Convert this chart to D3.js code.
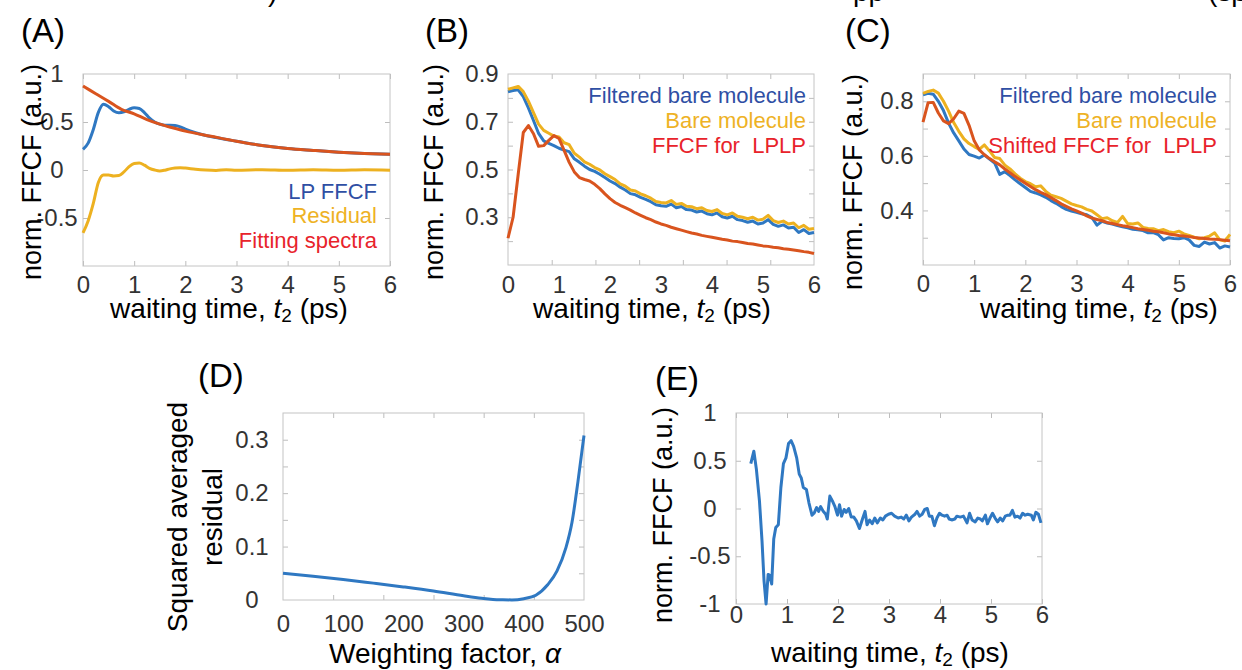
<!DOCTYPE html>
<html>
<head>
<meta charset="utf-8">
<script src="https://d3js.org/d3.v7.min.js"></script>
<style>
  body { margin: 0; background: #fff; }
  svg { display: block; font-family: "Liberation Sans", Arial, Helvetica, sans-serif; }
  .tick text { fill: #333; font-size: 24px; }
  .marks line { stroke: #bdbdbd; }
</style>
</head>
<body>
<script>
// ---------- data ----------
// (A) LP FFCF, residual and fit
const tA = [0,0.1,0.2,0.3,0.4,0.5,0.6,0.7,0.8,0.9,1.0,1.1,1.2,1.3,1.4,1.5,1.6,1.7,1.8,1.9,2.0,2.2,2.4,2.6,2.8,3.0,3.5,4.0,4.5,5.0,5.5,6.0];
const lpFFCF = [0.215,0.28,0.42,0.60,0.685,0.66,0.615,0.596,0.605,0.632,0.648,0.640,0.598,0.540,0.500,0.478,0.466,0.466,0.464,0.450,0.426,0.388,0.360,0.338,0.318,0.300,0.255,0.224,0.204,0.186,0.173,0.164];
const residualA = [-0.655,-0.53,-0.35,-0.13,-0.052,-0.052,-0.062,-0.058,-0.02,0.035,0.068,0.072,0.05,0.018,0.0,-0.01,-0.002,0.012,0.02,0.024,0.02,0.008,0.0,-0.004,0.002,-0.002,0.003,-0.003,0.002,-0.003,0.002,-0.002];
const tFit = [0,0.25,0.5,0.75,1,1.25,1.5,1.75,2,2.5,3,3.5,4,4.5,5,5.5,6];
const fitA = [0.875,0.795,0.715,0.632,0.585,0.525,0.478,0.440,0.405,0.352,0.300,0.255,0.224,0.204,0.186,0.173,0.164];

// (B) and (C) sampled every 0.1 ps
const tGrid = d3.range(61).map(i => i / 10);
const filteredB = [0.826,0.831,0.834,0.805,0.758,0.705,0.651,0.620,0.609,0.600,0.589,0.581,0.575,0.545,0.530,0.514,0.500,0.492,0.480,0.466,0.452,0.441,0.426,0.414,0.399,0.394,0.383,0.375,0.365,0.352,0.348,0.346,0.355,0.340,0.345,0.332,0.330,0.322,0.326,0.315,0.310,0.318,0.302,0.297,0.304,0.290,0.286,0.279,0.284,0.272,0.276,0.290,0.270,0.262,0.268,0.255,0.258,0.236,0.248,0.232,0.236];
const bareB = [0.836,0.842,0.848,0.826,0.786,0.738,0.690,0.664,0.652,0.640,0.636,0.612,0.604,0.568,0.552,0.532,0.522,0.508,0.498,0.482,0.470,0.458,0.440,0.430,0.414,0.410,0.398,0.390,0.380,0.366,0.362,0.360,0.370,0.354,0.358,0.346,0.344,0.336,0.340,0.328,0.324,0.332,0.316,0.310,0.318,0.304,0.300,0.294,0.300,0.288,0.292,0.308,0.286,0.278,0.284,0.272,0.276,0.256,0.266,0.250,0.253];
const lplpB = [0.212,0.30,0.48,0.655,0.684,0.650,0.597,0.600,0.622,0.642,0.630,0.580,0.530,0.490,0.466,0.458,0.452,0.438,0.420,0.398,0.378,0.362,0.350,0.340,0.330,0.318,0.308,0.298,0.290,0.280,0.272,0.266,0.258,0.252,0.246,0.240,0.234,0.230,0.224,0.220,0.216,0.212,0.208,0.205,0.200,0.198,0.194,0.190,0.188,0.184,0.180,0.178,0.174,0.172,0.168,0.166,0.163,0.160,0.156,0.153,0.148];

const filteredC = [0.824,0.829,0.826,0.800,0.766,0.720,0.684,0.655,0.625,0.605,0.599,0.592,0.603,0.588,0.574,0.532,0.542,0.528,0.512,0.498,0.484,0.470,0.464,0.457,0.448,0.436,0.426,0.414,0.404,0.398,0.393,0.388,0.384,0.374,0.346,0.360,0.354,0.350,0.345,0.340,0.336,0.331,0.329,0.326,0.318,0.319,0.311,0.292,0.300,0.297,0.296,0.300,0.292,0.272,0.268,0.284,0.277,0.282,0.262,0.270,0.266];
const bareC = [0.829,0.836,0.841,0.830,0.800,0.764,0.722,0.690,0.662,0.645,0.634,0.624,0.640,0.618,0.594,0.590,0.566,0.552,0.534,0.518,0.506,0.498,0.487,0.490,0.470,0.456,0.450,0.444,0.434,0.424,0.418,0.413,0.404,0.398,0.384,0.370,0.373,0.362,0.356,0.378,0.352,0.350,0.354,0.338,0.334,0.333,0.326,0.330,0.322,0.318,0.324,0.314,0.308,0.302,0.296,0.300,0.306,0.318,0.292,0.288,0.312];
const shiftedC = [0.724,0.795,0.796,0.757,0.728,0.718,0.736,0.764,0.756,0.712,0.655,0.622,0.604,0.590,0.578,0.567,0.552,0.538,0.524,0.512,0.500,0.488,0.476,0.466,0.458,0.447,0.436,0.424,0.415,0.406,0.398,0.390,0.380,0.372,0.367,0.362,0.356,0.352,0.348,0.344,0.341,0.337,0.333,0.330,0.327,0.324,0.322,0.318,0.314,0.311,0.308,0.306,0.304,0.301,0.299,0.297,0.295,0.294,0.293,0.291,0.289];

// (D) squared averaged residual vs weighting factor
const alphaD = [0,50,100,150,200,250,300,330,360,380,400,420,440,455,470,480,490,500];
const residD = [0.050,0.0445,0.0385,0.0316,0.0245,0.0168,0.0078,0.0032,0.0004,0.0002,0.0025,0.009,0.029,0.054,0.098,0.145,0.222,0.308];

// (E) difference FFCF
const tE = [0.29,0.35,0.40,0.46,0.51,0.55,0.59,0.63,0.66,0.70,0.74,0.78,0.83,0.88,0.93,0.98,1.03,1.08,1.13,1.19,1.24,1.28,1.32,1.38,1.43,1.49,1.53,1.58,1.62,1.66,1.71,1.76,1.79,1.84,1.89,1.94,1.99,2.03,2.07,2.12,2.16,2.21,2.26,2.31,2.36,2.42,2.48,2.53,2.57,2.62,2.67,2.72,2.77,2.83,2.88,2.93,2.99,3.05,3.11,3.18,3.24,3.29,3.34,3.39,3.44,3.51,3.55,3.60,3.65,3.70,3.75,3.79,3.84,3.89,3.94,3.99,4.04,4.09,4.14,4.18,4.23,4.29,4.33,4.40,4.46,4.53,4.58,4.63,4.69,4.74,4.79,4.83,4.89,4.93,4.98,5.03,5.08,5.13,5.18,5.23,5.28,5.33,5.37,5.42,5.47,5.52,5.57,5.62,5.67,5.72,5.79,5.83,5.88,5.93,5.98];
const ffcfE = [0.47,0.60,0.41,0.08,-0.34,-0.76,-1.0,-0.69,-0.70,-0.79,-0.32,-0.20,-0.17,0.22,0.47,0.53,0.68,0.71,0.65,0.53,0.36,0.32,0.22,0.20,0.06,-0.07,-0.05,0.01,-0.03,0.02,-0.03,-0.06,-0.11,0.13,0.08,0.02,-0.07,0.04,-0.08,-0.01,-0.04,0.00,-0.09,-0.09,-0.13,-0.21,-0.11,-0.03,-0.17,-0.12,-0.16,-0.10,-0.15,-0.10,-0.12,-0.08,-0.06,-0.05,-0.08,-0.10,-0.09,-0.11,-0.07,-0.13,-0.09,-0.06,-0.03,-0.08,-0.06,-0.01,0.00,-0.08,-0.08,-0.18,-0.10,-0.05,-0.07,-0.08,-0.07,-0.11,-0.12,-0.11,-0.08,-0.09,-0.08,-0.15,-0.05,-0.12,-0.14,-0.10,-0.11,-0.13,-0.07,-0.16,-0.10,-0.05,-0.10,-0.14,-0.10,-0.13,-0.08,-0.07,-0.07,-0.02,-0.09,-0.08,-0.10,-0.05,-0.07,-0.06,-0.07,-0.12,-0.04,-0.06,-0.15];

// tick labels
const timeTicks = [0,1,2,3,4,5,6];
const yTicksA = [-0.5,0,0.5,1];
const yTicksB = [0.3,0.5,0.7,0.9];
const yTicksC = [0.4,0.6,0.8];
const yTicksD = [0,0.1,0.2,0.3];
const xTicksD = [0,100,200,300,400,500];
const yTicksE = [-1,-0.5,0,0.5,1];

// ---------- drawing ----------
const blue = "#2f78c2", orange = "#d9541e", yellow = "#edb120";
const txtBlue = "#2f4fa4", txtYellow = "#eeb225", txtRed = "#e8232b";

const svg = d3.select("body").append("svg").attr("width", 1242).attr("height", 670);

function panel(o) {
  const x = d3.scaleLinear().domain(o.xd).range([o.x0, o.x1]);
  const y = d3.scaleLinear().domain(o.yd).range([o.y1, o.y0]);
  const g = svg.append("g");
  const noDomain = s => s.select(".domain").remove();

  // tick marks on all four sides, pointing in
  g.append("g").attr("class", "marks").attr("transform", `translate(0,${o.y1})`)
    .call(d3.axisBottom(x).tickValues(o.xMarks).tickSize(-5).tickFormat("")).call(noDomain);
  g.append("g").attr("class", "marks").attr("transform", `translate(0,${o.y0})`)
    .call(d3.axisTop(x).tickValues(o.xMarks).tickSize(-5).tickFormat("")).call(noDomain);
  g.append("g").attr("class", "marks").attr("transform", `translate(${o.x0},0)`)
    .call(d3.axisLeft(y).tickValues(o.yMarks).tickSize(-5).tickFormat("")).call(noDomain);
  g.append("g").attr("class", "marks").attr("transform", `translate(${o.x1},0)`)
    .call(d3.axisRight(y).tickValues(o.yMarks).tickSize(-5).tickFormat("")).call(noDomain);

  g.append("rect").attr("x", o.x0).attr("y", o.y0)
    .attr("width", o.x1 - o.x0).attr("height", o.y1 - o.y0)
    .attr("fill", "none").attr("stroke", "#c4c4c4").attr("stroke-width", 1);

  // tick labels
  const xl = g.append("g").attr("transform", `translate(0,${o.y1})`)
    .call(d3.axisBottom(x).tickValues(o.xLabels).tickSize(0).tickFormat(d => String(d))).call(noDomain);
  xl.selectAll("text").attr("y", o.xLabOff).attr("dy", null);
  const yl = g.append("g").attr("transform", `translate(${o.x0},0)`)
    .call(d3.axisLeft(y).tickValues(o.yLabels).tickSize(0).tickFormat(d => String(d))).call(noDomain);
  yl.selectAll("text").attr("text-anchor", "middle").attr("x", o.yLabX - o.x0);

  return { g, x, y };
}

function curve(p, xs, ys, color, c) {
  const line = d3.line().x(d => p.x(d[0])).y(d => p.y(d[1])).curve(c || d3.curveLinear);
  p.g.append("path").datum(xs.map((v, i) => [v, ys[i]]))
    .attr("fill", "none").attr("stroke", color).attr("stroke-width", 3)
    .attr("stroke-linejoin", "round").attr("d", line);
}

function text(str, x, y, opt) {
  opt = opt || {};
  return svg.append("text").attr("x", x).attr("y", y)
    .attr("font-size", opt.size || 22).attr("fill", opt.fill || "#000")
    .attr("text-anchor", opt.anchor || "start").text(str);
}

function timeLabel(cx, base) {
  const t = svg.append("text").attr("x", cx).attr("y", base).attr("font-size", 28)
    .attr("text-anchor", "middle").attr("fill", "#000");
  t.append("tspan").text("waiting time, ");
  t.append("tspan").attr("font-style", "italic").text("t");
  t.append("tspan").attr("font-size", 19).attr("dy", 4).text("2");
  t.append("tspan").attr("dy", -4).text(" (ps)");
}

function yLabel(lines, x, cy, size) {
  const t = svg.append("text").attr("transform", `translate(${x},${cy}) rotate(-90)`)
    .attr("font-size", size || 27).attr("text-anchor", "middle").attr("fill", "#000");
  lines.forEach((s, i) => t.append("tspan").attr("x", 0).attr("dy", i ? 35 : 0).text(s));
}

// fragments of the caption line cut off above the figure
text(")", 268, 1, { size: 28 });
text("pp", 853, 1, { size: 28 });
text("(sp", 1208, 1, { size: 28 });

// (A)
const pA = panel({ x0: 83, x1: 390, y0: 74, y1: 266, xd: [0, 6], yd: [-1, 1],
  xMarks: timeTicks, yMarks: [-0.5, 0, 0.5], xLabels: timeTicks, yLabels: yTicksA, xLabOff: 27, yLabX: 57 });
curve(pA, tA, residualA, yellow, d3.curveMonotoneX);
curve(pA, tA, lpFFCF, blue, d3.curveMonotoneX);
curve(pA, tFit, fitA, orange, d3.curveMonotoneX);
text("LP FFCF", 377, 199, { anchor: "end", fill: txtBlue });
text("Residual", 377, 223, { anchor: "end", fill: txtYellow });
text("Fitting spectra", 377, 248, { anchor: "end", fill: txtRed });
text("(A)", 21, 42, { size: 33 });
yLabel(["norm. FFCF (a.u.)"], 41, 172);
timeLabel(229, 318);

// (B)
const pB = panel({ x0: 508, x1: 814, y0: 74, y1: 265, xd: [0, 6], yd: [0.1, 0.9],
  xMarks: d3.range(1, 7).map(i => i * 6 / 7), yMarks: d3.range(2, 9).map(i => i / 10),
  xLabels: timeTicks, yLabels: yTicksB, xLabOff: 28, yLabX: 482 });
curve(pB, tGrid, filteredB, blue);
curve(pB, tGrid, bareB, yellow);
curve(pB, tGrid, lplpB, orange);
text("Filtered bare molecule", 806, 103, { anchor: "end", fill: txtBlue });
text("Bare molecule", 806, 128, { anchor: "end", fill: txtYellow });
text("FFCF for  LPLP", 806, 153, { anchor: "end", fill: txtRed }).attr("xml:space", "preserve");
text("(B)", 425, 42, { size: 33 });
yLabel(["norm. FFCF (a.u.)"], 443, 172);
timeLabel(652, 318);

// (C)
const pC = panel({ x0: 923, x1: 1230, y0: 74, y1: 265, xd: [0, 6], yd: [0.2, 0.9],
  xMarks: timeTicks, yMarks: d3.range(3, 9).map(i => i / 10),
  xLabels: timeTicks, yLabels: yTicksC, xLabOff: 27, yLabX: 897 });
curve(pC, tGrid, filteredC, blue);
curve(pC, tGrid, bareC, yellow);
curve(pC, tGrid, shiftedC, orange);
text("Filtered bare molecule", 1217, 103, { anchor: "end", fill: txtBlue });
text("Bare molecule", 1217, 128, { anchor: "end", fill: txtYellow });
text("Shifted FFCF for  LPLP", 1217, 153, { anchor: "end", fill: txtRed }).attr("xml:space", "preserve");
text("(C)", 845, 42, { size: 33 });
yLabel(["norm. FFCF (a.u.)"], 862, 182);
timeLabel(1099, 318);

// (D)
const pD = panel({ x0: 283, x1: 584, y0: 413, y1: 600, xd: [0, 500], yd: [0, 0.35],
  xMarks: d3.range(1, 6).map(i => i * 500 / 6), yMarks: d3.range(1, 7).map(i => i * 0.05),
  xLabels: xTicksD, yLabels: yTicksD, xLabOff: 32, yLabX: 252 });
curve(pD, alphaD, residD, blue, d3.curveMonotoneX);
text("(D)", 198, 387, { size: 33 });
yLabel(["Squared averaged", "residual"], 187, 517, 28);
const wl = svg.append("text").attr("x", 445).attr("y", 663).attr("font-size", 28)
  .attr("text-anchor", "middle");
wl.append("tspan").text("Weighting factor, ");
wl.append("tspan").attr("font-style", "italic").text("α");

// (E)
const pE = panel({ x0: 736, x1: 1042, y0: 413, y1: 604, xd: [0, 6], yd: [-1, 1],
  xMarks: timeTicks, yMarks: [-0.5, 0, 0.5], xLabels: timeTicks, yLabels: yTicksE, xLabOff: 19, yLabX: 710 });
curve(pE, tE, ffcfE, blue);
text("(E)", 655, 390, { size: 33 });
yLabel(["norm. FFCF (a.u.)"], 672, 515);
timeLabel(890, 662);
</script>
</body>
</html>
